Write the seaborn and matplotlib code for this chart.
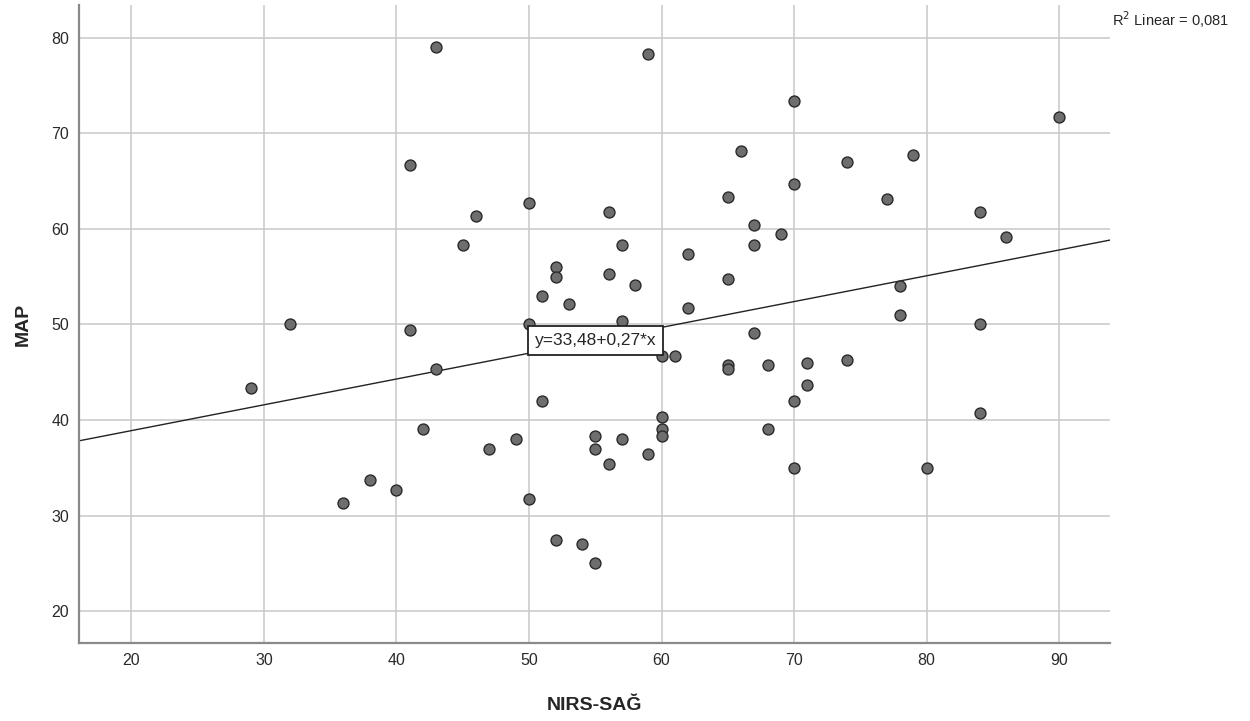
import numpy as np
import pandas as pd
import seaborn as sns
import matplotlib.pyplot as plt

# values
nirs_sag = [32, 29, 36, 38, 40, 41, 41, 42, 43, 43,
            45, 46, 47, 49, 50, 50, 50, 51, 51, 52,
            52, 52, 53, 54, 55, 55, 55, 56, 56, 56,
            57, 57, 57, 58, 59, 59, 60, 60, 60, 60,
            61, 62, 62, 65, 65, 65, 65, 66, 67, 67,
            67, 68, 68, 69, 70, 70, 70, 70, 71, 71,
            74, 74, 77, 78, 78, 79, 80, 84, 84, 84,
            86, 90]
map_vals = [50.0, 43.3, 31.3, 33.7, 32.7, 66.7, 49.4, 39.0, 79.0, 45.3,
            58.3, 61.3, 37.0, 38.0, 62.7, 50.0, 31.7, 53.0, 42.0, 56.0,
            55.0, 27.4, 52.1, 27.0, 38.3, 37.0, 25.0, 61.7, 55.3, 35.4,
            58.3, 50.3, 38.0, 54.1, 78.3, 36.4, 46.7, 40.3, 39.0, 38.3,
            46.7, 57.4, 51.7, 63.3, 54.7, 45.7, 45.3, 68.1, 60.4, 58.3,
            49.1, 45.7, 39.0, 59.4, 73.4, 64.7, 42.0, 35.0, 46.0, 43.7,
            67.0, 46.3, 63.1, 54.0, 51.0, 67.7, 35.0, 61.7, 50.0, 40.7,
            59.1, 71.7]

# SPSS fit line as printed on the chart
fit_intercept = 33.48
fit_slope = 0.27
fit_label = "y=33,48+0,27*x"
r2_label = "R$^2$ Linear = 0,081"

df = pd.DataFrame({'NIRS-SAĞ': nirs_sag, 'MAP': map_vals})

sns.set_style('white')
plt.rcParams['font.family'] = ['Liberation Sans', 'DejaVu Sans']

fig = plt.figure(figsize=(12.5, 7.21), dpi=100)
ax = fig.add_axes([0.0632, 0.108, 0.825, 0.885])

ax.grid(True, color='#c8c8c8', linewidth=1.1)
ax.set_axisbelow(True)

xlim = (16.05, 93.85)
ax.set_xlim(xlim)
ax.set_ylim(16.65, 83.4)

sns.scatterplot(data=df, x='NIRS-SAĞ', y='MAP', ax=ax, s=62, color='#6e6e6e',
                edgecolor='#2a2a2a', linewidth=1.0, zorder=3)

line_df = pd.DataFrame({'x': list(xlim)})
line_df['y'] = fit_intercept + fit_slope * line_df['x']
sns.lineplot(data=line_df, x='x', y='y', ax=ax, color='#222222',
             linewidth=1.0, zorder=2)

ax.set_xlim(xlim)
ax.set_ylim(16.65, 83.4)
ax.set_xticks([20, 30, 40, 50, 60, 70, 80, 90])
ax.set_yticks([20, 30, 40, 50, 60, 70, 80])
ax.tick_params(length=0, labelsize=11.5, colors='#2a2a2a', pad=7)

for s in ['top', 'right']:
    ax.spines[s].set_visible(False)
for s in ['left', 'bottom']:
    ax.spines[s].set_color('#8a8a8a')
    ax.spines[s].set_linewidth(1.6)

ax.set_xlabel('NIRS-SAĞ', fontsize=14, fontweight='bold', labelpad=21)
ax.set_ylabel('MAP', fontsize=14, fontweight='bold', labelpad=14)

ax.text(55, 48.35, fit_label, ha='center', va='center', fontsize=12.5, zorder=5,
        bbox=dict(boxstyle='square,pad=0.4', facecolor='white',
                  edgecolor='#222222', linewidth=1.3))
fig.text(0.89, 0.973, r2_label, ha='left', va='center', fontsize=10.5)

fig.savefig('out.png', dpi=100)
